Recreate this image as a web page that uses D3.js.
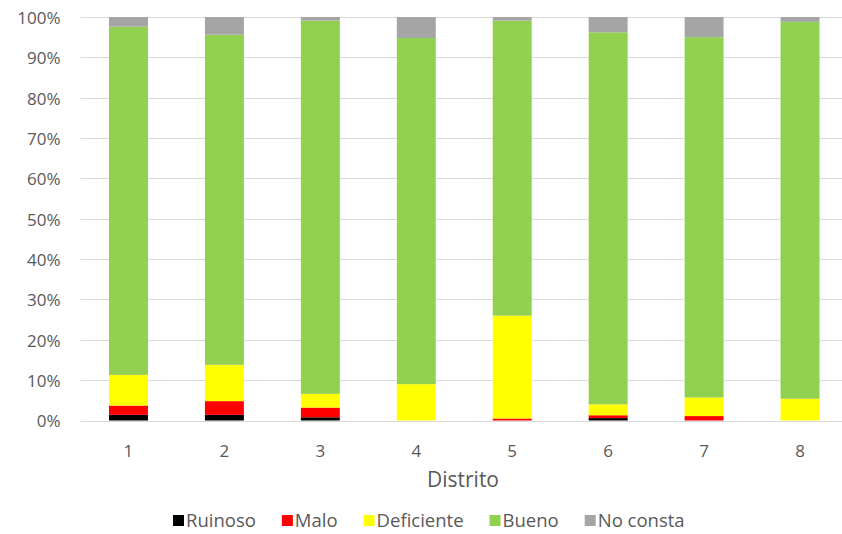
<!DOCTYPE html>
<html>
<head>
<meta charset="utf-8">
<script src="https://cdn.jsdelivr.net/npm/d3@7"></script>
<style>
  html, body { margin: 0; padding: 0; background: #fff; }
  svg { display: block; font-family: "Open Sans", "Noto Sans", sans-serif; }
</style>
</head>
<body>
<svg id="chart" width="842" height="534"></svg>
<script>
// Estado de conservación de edificios por distrito (% de cada distrito)
const distritos = ["1", "2", "3", "4", "5", "6", "7", "8"];
const categorias = ["Ruinoso", "Malo", "Deficiente", "Bueno", "No consta"];
const colores = ["#000000", "#ff0000", "#ffff00", "#92d050", "#a5a5a5"];

const ruinoso    = [1.4, 1.4, 0.8, 0.0, 0.0, 0.6, 0.0, 0.0];
const malo       = [2.3, 3.4, 2.4, 0.0, 0.5, 0.7, 1.1, 0.0];
const deficiente = [7.6, 9.0, 3.4, 9.0, 25.5, 2.7, 4.6, 5.4];
const bueno      = [86.3, 81.8, 92.5, 85.8, 73.1, 92.2, 89.3, 93.4];
const noConsta   = [2.4, 4.4, 0.9, 5.2, 0.9, 3.8, 5.0, 1.2];

const yTicks = [0, 10, 20, 30, 40, 50, 60, 70, 80, 90, 100];

const series = [ruinoso, malo, deficiente, bueno, noConsta];
const rows = distritos.map((d, i) => {
  const r = { distrito: d };
  categorias.forEach((c, k) => { r[c] = series[k][i]; });
  return r;
});

const textColor = "#595959";
const svg = d3.select("#chart");
const plot = { left: 80.5, right: 848, top: 17, bottom: 420.5 };

const x = d3.scaleBand().domain(distritos)
  .range([plot.left, plot.right]).paddingInner(0.594).paddingOuter(0.297);
const y = d3.scaleLinear().domain([0, 100]).range([plot.bottom, plot.top]);

// Líneas de cuadrícula horizontales
svg.append("g")
  .selectAll("line").data(yTicks).join("line")
  .attr("x1", plot.left).attr("x2", 842)
  .attr("y1", d => Math.round(y(d)) + 0.5).attr("y2", d => Math.round(y(d)) + 0.5)
  .attr("stroke", "#d9d9d9").attr("stroke-width", 1.2);

// Eje Y
const yAxis = svg.append("g")
  .attr("transform", `translate(${plot.left},0)`)
  .call(d3.axisLeft(y).tickValues(yTicks).tickFormat(d => d + "%").tickSize(0).tickPadding(20));
yAxis.select(".domain").remove();
yAxis.selectAll("text").attr("fill", textColor).attr("font-size", 17)
  .attr("font-family", "'Open Sans', sans-serif").attr("dy", "0.38em");

// Barras apiladas
const stack = d3.stack().keys(categorias)(rows);
svg.append("g")
  .selectAll("g").data(stack).join("g")
  .attr("fill", (d, i) => colores[i])
  .selectAll("rect").data(d => d).join("rect")
  .attr("x", d => x(d.data.distrito))
  .attr("width", x.bandwidth())
  .attr("y", d => y(d[1]))
  .attr("height", d => y(d[0]) - y(d[1]));

// Eje X
const xAxis = svg.append("g")
  .attr("transform", `translate(0,${plot.bottom})`)
  .call(d3.axisBottom(x).tickSize(0).tickPadding(24));
xAxis.select(".domain").remove();
xAxis.selectAll("text").attr("fill", textColor).attr("font-size", 17)
  .attr("font-family", "'Open Sans', sans-serif");

// Título del eje X
svg.append("text")
  .attr("x", 463).attr("y", 487)
  .attr("text-anchor", "middle")
  .attr("fill", textColor).attr("font-size", 21)
  .text("Distrito");

// Leyenda
const legend = svg.append("g").attr("transform", "translate(173,0)");
let cursor = 0;
categorias.forEach((c, i) => {
  const g = legend.append("g").attr("transform", `translate(${cursor},0)`);
  g.append("rect").attr("x", 0).attr("y", 515).attr("width", 11).attr("height", 11).attr("fill", colores[i]);
  const t = g.append("text").attr("x", 13).attr("y", 527)
    .attr("fill", textColor).attr("font-size", 18.5).text(c);
  cursor += 13 + t.node().getComputedTextLength() + 26;
});
</script>
</body>
</html>
